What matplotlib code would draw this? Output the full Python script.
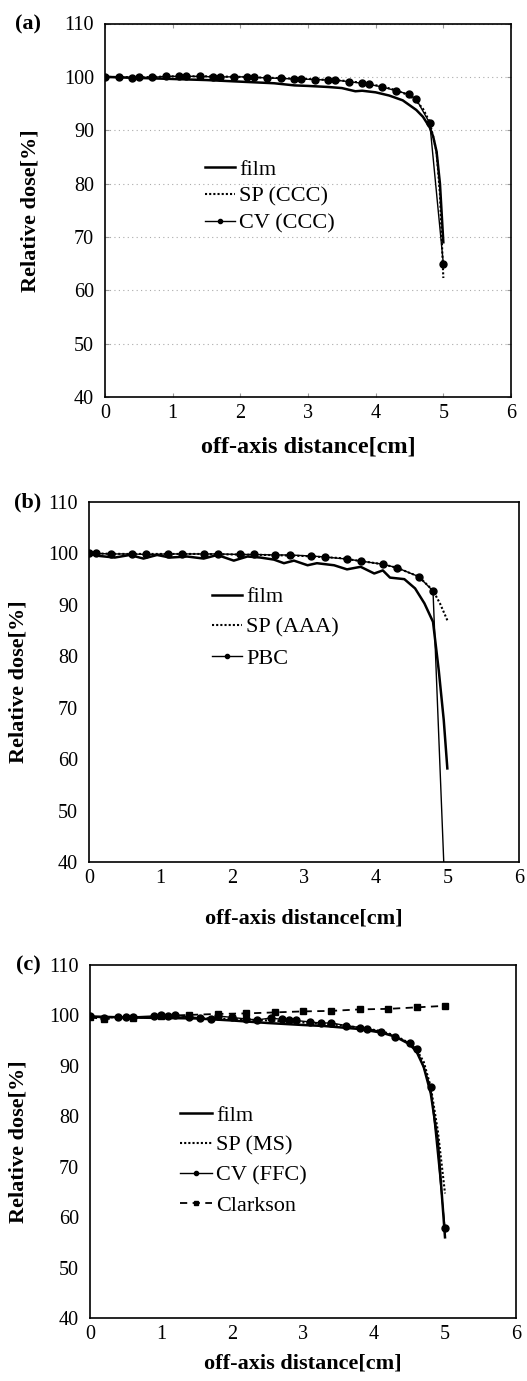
import matplotlib
matplotlib.use("Agg")
import matplotlib.pyplot as plt

plt.rcParams['font.family'] = ['Liberation Serif', 'DejaVu Serif']

# ---------------- data ----------------
# panel (a)
a_film_x = [0, 0.5, 1, 1.5, 2, 2.5, 2.8, 3, 3.3, 3.5, 3.7, 3.8, 4, 4.2, 4.4, 4.6, 4.7, 4.8, 4.85, 4.9, 4.95, 5.0]
a_film_y = [100, 99.8, 99.6, 99.4, 99.1, 98.8, 98.4, 98.3, 98.1, 97.9, 97.3, 97.4, 97.1, 96.5, 95.6, 93.8, 92.5, 90.5, 88.8, 86.0, 80.0, 69.0]
a_cv_x = [0, 0.2, 0.4, 0.5, 0.7, 0.9, 1.1, 1.2, 1.4, 1.6, 1.7, 1.9, 2.1, 2.2, 2.4, 2.6, 2.8, 2.9,
          3.1, 3.3, 3.4, 3.6, 3.8, 3.9, 4.1, 4.3, 4.5, 4.6, 4.8, 5.0]
a_cv_y = [99.9, 99.9, 99.8, 99.9, 99.9, 100.1, 100.1, 100.1, 100.1, 100.0, 100.0, 100.0, 100.0, 99.9, 99.8, 99.7, 99.6, 99.6,
          99.5, 99.4, 99.4, 99.1, 98.8, 98.6, 98.1, 97.4, 96.7, 95.8, 91.3, 65.0]
a_sp_x = [0, 0.5, 1, 1.5, 2, 2.5, 3, 3.5, 3.8, 4.1, 4.3, 4.5, 4.6, 4.7, 4.8, 4.9, 4.95, 5.0]
a_sp_y = [100, 99.9, 100.1, 100.1, 100.0, 99.8, 99.6, 99.3, 98.9, 98.2, 97.5, 96.5, 95.5, 94.0, 91.5, 86.0, 78.0, 62.3]

# panel (b)
b_film_x = [0, 0.15, 0.36, 0.57, 0.76, 0.95, 1.13, 1.37, 1.6, 1.79, 2.02, 2.21, 2.39, 2.58, 2.72, 2.86, 3.05,
            3.18, 3.42, 3.6, 3.79, 3.98, 4.1, 4.2, 4.4, 4.55, 4.68, 4.8, 4.88, 4.95, 5.0]
b_film_y = [100, 99.5, 99.2, 99.7, 99.0, 99.7, 99.2, 99.4, 99.0, 99.7, 98.6, 99.4, 99.2, 98.8, 98.1, 98.6, 97.7,
            98.1, 97.7, 96.9, 97.4, 96.1, 96.7, 95.3, 95.0, 93.2, 90.3, 86.7, 77.3, 67.6, 58.2]
b_pbc_x = [0, 0.1, 0.3, 0.6, 0.8, 1.1, 1.3, 1.6, 1.8, 2.1, 2.3, 2.6, 2.8, 3.1, 3.3, 3.6, 3.8, 4.1, 4.3, 4.6, 4.8, 4.95]
b_pbc_y = [100, 100, 99.9, 99.9, 99.8, 99.9, 99.9, 99.9, 99.9, 99.8, 99.8, 99.7, 99.7, 99.5, 99.3, 98.9, 98.5, 97.9, 97.2, 95.5, 92.7, 40.0]
b_sp_x = [0, 0.5, 1, 1.5, 2, 2.5, 3, 3.5, 3.8, 4.1, 4.3, 4.6, 4.8, 4.9, 5.0]
b_sp_y = [100, 99.9, 99.9, 99.9, 99.8, 99.7, 99.5, 99.1, 98.5, 97.9, 97.2, 95.5, 92.8, 90.2, 87.0]

# panel (c)
c_film_x = [0, 0.5, 1, 1.5, 2, 2.5, 3, 3.3, 3.8, 4.1, 4.3, 4.5, 4.6, 4.7, 4.8, 4.9, 5.0]
c_film_y = [99.8, 99.6, 99.5, 99.4, 99.0, 98.5, 98.1, 97.9, 97.3, 96.6, 95.8, 94.3, 92.8, 89.8, 84.5, 75.0, 56.0]
c_cv_x = [0, 0.2, 0.4, 0.5, 0.6, 0.9, 1.0, 1.1, 1.2, 1.4, 1.55, 1.7, 1.8, 2.0, 2.2, 2.35, 2.55, 2.7, 2.8, 2.9,
          3.1, 3.25, 3.4, 3.6, 3.8, 3.9, 4.1, 4.3, 4.5, 4.6, 4.8, 5.0]
c_cv_y = [99.8, 99.5, 99.7, 99.7, 99.7, 99.9, 100.0, 99.9, 100.0, 99.7, 99.5, 99.2, 99.9, 99.6, 99.3, 99.1, 99.5, 99.2, 99.1, 99.0,
          98.7, 98.5, 98.5, 98.0, 97.6, 97.4, 96.8, 95.8, 94.5, 93.4, 85.8, 57.8]
c_sp_x = [0, 0.5, 1, 1.5, 2, 2.5, 3, 3.5, 3.8, 4.1, 4.3, 4.5, 4.6, 4.7, 4.8, 4.9, 5.0]
c_sp_y = [99.7, 99.6, 99.7, 99.5, 99.3, 99.0, 98.6, 98.1, 97.6, 96.9, 96.0, 94.5, 93.2, 90.8, 85.8, 77.0, 64.7]
c_clk_x = [0, 0.2, 0.6, 1.0, 1.4, 1.8, 2.2, 2.6, 3.0, 3.4, 3.8, 4.2, 4.6, 5.0]
c_clk_y = [99.6, 99.3, 99.5, 99.9, 100.1, 100.3, 100.4, 100.6, 100.8, 100.9, 101.2, 101.3, 101.6, 101.9]

x_ticks = [0, 1, 2, 3, 4, 5, 6]
y_ticks = [40, 50, 60, 70, 80, 90, 100, 110]
xlabel_text = "off-axis distance[cm]"
ylabel_text = "Relative dose[%]"

# ---------------- figure ----------------
W, H = 527, 1381
fig = plt.figure(figsize=(W / 100, H / 100), dpi=100)


def px_axes(l, r, t, b):
    return [l / W, 1 - b / H, (r - l) / W, (b - t) / H]


def setup(ax, tag, tag_y, xl_size, grid):
    ax.set_xlim(0, 6)
    ax.set_ylim(40, 110)
    ax.set_xticks(x_ticks)
    ax.set_yticks(y_ticks)
    ax.tick_params(labelsize=14.5, length=3 if grid else 0, direction='in',
                   color='#999999', top=grid, right=grid)
    ax.tick_params(axis='x', pad=5)
    ax.tick_params(axis='y', pad=8)
    for s in ax.spines.values():
        s.set_linewidth(1.2)
    if grid:
        ax.grid(axis='y', linestyle=(0, (1, 3)), color='#aaaaaa', linewidth=0.8)
    ax.set_xlabel(xlabel_text, fontsize=xl_size, fontweight='bold')
    ax.set_ylabel(ylabel_text, fontsize=16, fontweight='bold')
    fig.text(28 / W, 1 - tag_y / H, tag, fontsize=16, fontweight='bold', ha='center', va='center')


def add_legend(ax, x0, y0, hl, ls):
    ax.legend(loc='upper left', bbox_to_anchor=(x0, y0), bbox_transform=ax.transData,
              frameon=False, borderpad=0, borderaxespad=0, handlelength=hl, handletextpad=0.18,
              labelspacing=ls, fontsize=16, markerscale=0.6)


film_kw = dict(color='black', lw=1.8, linestyle='-')
sp_kw = dict(color='black', lw=1.5, linestyle=(0, (1, 1)))
cv_kw = dict(color='black', lw=1.0, marker='o', ms=5)
clk_kw = dict(color='black', lw=1.3, linestyle=(0, (4, 3)), marker='s', ms=5)

# panel a
axa = fig.add_axes(px_axes(105, 511, 23.5, 397))
axa.plot(a_film_x, a_film_y, **film_kw, label='film')
axa.plot(a_sp_x, a_sp_y, **sp_kw, label='SP (CCC)')
axa.plot(a_cv_x, a_cv_y, **cv_kw, label='CV (CCC)')
setup(axa, '(a)', 24, 17.5, True)
axa.yaxis.set_label_coords(-0.16, 0.5)
axa.xaxis.set_label_coords(0.5, -0.105)
add_legend(axa, 1.48, 84.5, 1.35, 0.28)

# panel b
axb = fig.add_axes(px_axes(89, 519, 502, 862))
axb.plot(b_film_x, b_film_y, **film_kw, label='film')
axb.plot(b_sp_x, b_sp_y, **sp_kw, label='SP (AAA)')
axb.plot(b_pbc_x, b_pbc_y, **cv_kw, markevery=list(range(len(b_pbc_x) - 1)), label='PBC')
setup(axb, '(b)', 502, 16, False)
axb.yaxis.set_label_coords(-0.14, 0.5)
axb.xaxis.set_label_coords(0.5, -0.13)
add_legend(axb, 1.72, 93.5, 1.35, 0.45)

# panel c
axc = fig.add_axes(px_axes(90, 516, 965, 1318))
axc.plot(c_film_x, c_film_y, **film_kw, label='film')
axc.plot(c_sp_x, c_sp_y, **sp_kw, label='SP (MS)')
axc.plot(c_cv_x, c_cv_y, **cv_kw, label='CV (FFC)')
axc.plot(c_clk_x, c_clk_y, **clk_kw, label='Clarkson')
setup(axc, '(c)', 965, 16, False)
axc.yaxis.set_label_coords(-0.145, 0.5)
axc.xaxis.set_label_coords(0.5, -0.1)
add_legend(axc, 1.27, 82.2, 1.45, 0.43)

fig.savefig("out.png", dpi=100)
